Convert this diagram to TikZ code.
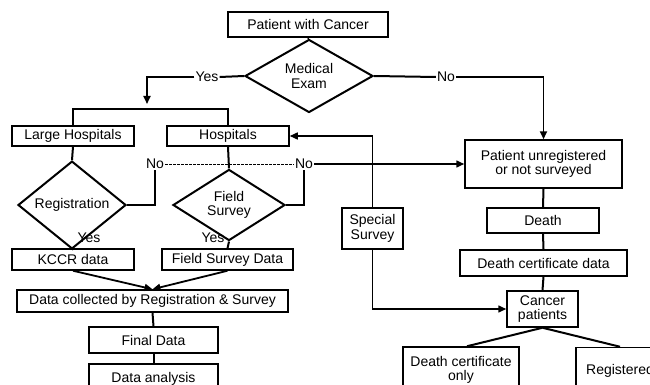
\documentclass[tikz,border=0pt]{standalone}
\usepackage{fontspec}
\setmainfont{Liberation Sans}
\usetikzlibrary{shapes.geometric,arrows.meta}
\begin{document}
\begin{tikzpicture}[x=1pt,y=-1pt,
  every node/.style={font=\fontsize{14}{14.5}\selectfont},
  box/.style={draw,line width=1.5pt,rectangle,inner sep=0pt,align=center},
  dia/.style={draw,line width=2pt,diamond,inner sep=0pt,align=center},
  lbl/.style={inner sep=1pt},
  conn/.style={line width=2pt},
  arr/.style={line width=1.8pt,-{Triangle[length=8pt,width=7pt]}},
  dsh/.style={line width=0.9pt,dashed,dash pattern=on 3pt off 1pt}]
\useasboundingbox (0,0) rectangle (650,385);
\clip (0,0) rectangle (650,385);
% nodes
\node[box,minimum width=160pt,minimum height=25pt] (pwc) at (308,24.5) {Patient with Cancer};
\node[dia,minimum width=128pt,minimum height=56pt] (med) at (309,76) {Medical\\Exam};
\node[box,minimum width=122pt,minimum height=20pt] (lh) at (73,136) {Large Hospitals};
\node[box,minimum width=122pt,minimum height=20pt] (hosp) at (228,136) {Hospitals};
\node[dia,minimum width=108pt,minimum height=55pt] (reg) at (72,205) {Registration};
\node[dia,minimum width=112pt,minimum height=55pt] (fs) at (229,205) {Field\\Survey};
\node[box,minimum width=122pt,minimum height=21pt] (kccr) at (73,259.5) {KCCR data};
\node[box,minimum width=131pt,minimum height=21pt] (fsd) at (227.5,259.5) {Field Survey Data};
\node[box,minimum width=271pt,minimum height=22pt] (dc) at (152.5,301) {Data collected by Registration \& Survey};
\node[box,minimum width=129pt,minimum height=26pt] (fd) at (153.5,340) {Final Data};
\node[box,minimum width=129pt,minimum height=30pt] (da) at (153.5,379) {Data analysis};
\node[box,minimum width=157pt,minimum height=48pt] (pu) at (543.5,164) {Patient unregistered\\or not surveyed};
\node[box,minimum width=112pt,minimum height=25pt] (death) at (543,220.5) {Death};
\node[box,minimum width=167pt,minimum height=26pt] (dcd) at (543.5,263) {Death certificate data};
\node[box,minimum width=71pt,minimum height=36pt] (cp) at (542.5,309) {Cancer\\patients};
\node[box,minimum width=61pt,minimum height=41pt] (ss) at (372.5,228.5) {Special\\Survey};
\node[box,minimum width=116pt,minimum height=46pt] (dco) at (461,370) {Death certificate\\only};
\node[box,minimum width=88pt,minimum height=46pt] (regd) at (620,370.5) {Registered};
% labels
\node[lbl] (yes1) at (207,77) {Yes};
\node[lbl] (no1) at (446,77) {No};
\node[lbl] (no2) at (155,164) {No};
\node[lbl] (no3) at (304,164) {No};
\node[lbl] (yes2) at (89,238) {Yes};
\node[lbl] (yes3) at (213,238) {Yes};
\coordinate (yestip) at (147,104);
% connectors
\draw[conn] (pwc.south) -- (med.north);
\draw[conn] (med.west) -- (yes1.east);
\draw[arr] (yes1.west) -| (yestip);
\draw[conn] (med.east) -- (no1.west);
\draw[arr] (no1.east) -| (pu.north);
\draw[conn] (lh.north) -- ++(0,-16) -| (hosp.north);
\draw[conn] (lh.south) -- (reg.north);
\draw[conn] (hosp.south) -- (fs.north);
\draw[conn] (reg.south) -- (kccr.north);
\draw[conn] (fs.south) -- (fsd.north);
\draw[arr] (kccr.south) -- (dc.north);
\draw[arr] (fsd.south) -- (dc.north);
\draw[conn] (dc.south) -- (fd.north);
\draw[conn] (fd.south) -- (da.north);
\draw[conn] (reg.east) -| (no2.south);
\draw[conn] (fs.east) -| (no3.south);
\draw[dsh] (no2.east) -- (no3.west);
\draw[arr,line width=1.5pt] (no3.east) -- (pu.west);
\draw[arr,line width=1.5pt] (ss.north) |- (hosp.east);
\draw[arr,line width=1.5pt] (ss.south) |- (cp.west);
\draw[conn] (pu.south) -- (death.north);
\draw[conn] (death.south) -- (dcd.north);
\draw[conn] (dcd.south) -- (cp.north);
\draw[conn] (cp.south) -- ([xshift=6pt]dco.north);
\draw[conn] (cp.south) -- (regd.north);
\end{tikzpicture}
\end{document}
